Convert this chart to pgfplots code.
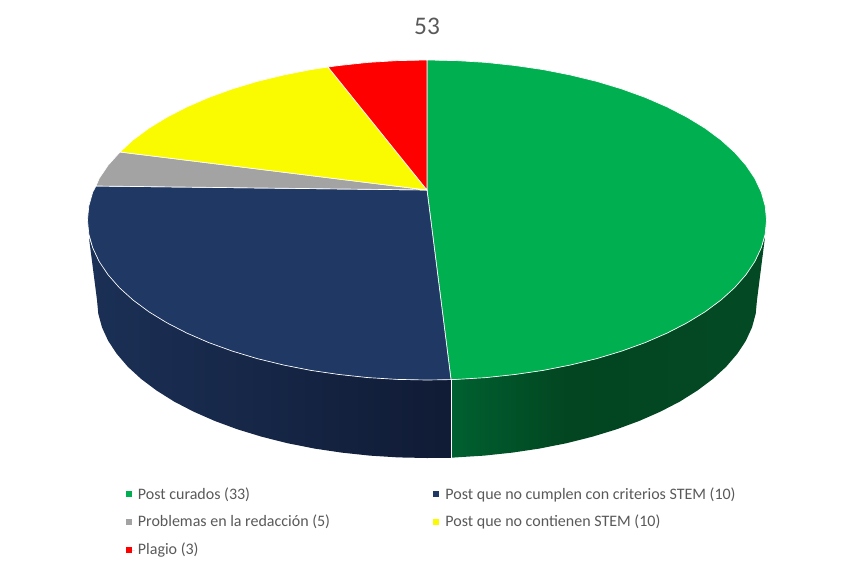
\documentclass[border=0pt]{standalone}
\usepackage{pgfplots}
\pgfplotsset{compat=1.18}
\usepackage{fontspec}
\setmainfont{Carlito}
\definecolor{cgreen}{HTML}{00AF50}
\definecolor{cblue}{HTML}{1F3864}
\definecolor{cgrey}{HTML}{A3A3A3}
\definecolor{cyellow}{HTML}{FAFA00}
\definecolor{cred}{HTML}{FF0000}
\definecolor{ctext}{HTML}{595959}
\definecolor{gs0}{HTML}{006030}
\definecolor{gs1}{HTML}{024520}
\definecolor{gs2}{HTML}{034A24}
\definecolor{bs0}{HTML}{1B3056}
\definecolor{bs1}{HTML}{101B35}
\pgfdeclarehorizontalshading{greenside}{100bp}{color(0bp)=(gs0);color(25bp)=(gs0);color(44bp)=(gs1);color(75bp)=(gs2);color(100bp)=(gs2)}
\pgfdeclarehorizontalshading{blueside}{100bp}{color(0bp)=(bs0);color(25bp)=(bs0);color(75bp)=(bs1);color(100bp)=(bs1)}
\begin{document}
\begin{tikzpicture}
\path (0,0) rectangle (640.5pt,426pt);
\begin{axis}[
  at={(0,0)}, anchor=south west,
  scale only axis, width=640.5pt, height=426pt,
  xmin=0, xmax=854, ymin=0, ymax=568, y dir=reverse,
  hide axis, clip=false,
  title={\fontsize{19}{23}\selectfont\color{ctext}53},
  title style={at={(rel axis cs:0.5,0.94)},anchor=center},
  legend columns=2,
  legend cell align=left,
  legend image code/.code={\path (0pt,0pt) rectangle (7pt,0pt);\path[#1,draw=none] (0pt,-2.25pt) rectangle (4.5pt,2.25pt);},
  legend style={
    at={(axis cs:121,482)}, anchor=north west, draw=none, fill=none,
    font=\fontsize{12}{14}\selectfont\color{ctext},
    row sep=6.4pt,
    /tikz/column 2/.style={column sep=75pt},
  },
]
% sides
\addplot[shade, shading=greenside, draw=none, forget plot] coordinates {
 (451,379.6)(456.6,379.4)(486,377.6)(514.9,374.5)(543.1,370.4)(570.5,365)(596.8,358.6)(621.7,351.1)(645.2,342.6)(667.1,333.1)(687.1,322.8)(705.1,311.8)(721,300)(734.7,287.6)(746,274.7)(754.9,261.4)(761.3,247.8)(765,237)
 (757,300)(755.7,313.8)(752,327.4)(745.8,340.9)(737.1,354)(726.1,366.8)(712.8,379)(697.3,390.6)(679.8,401.6)(660.3,411.7)(639.1,421)(616.3,429.4)(592,436.8)(566.5,443.2)(539.9,448.5)(512.4,452.6)(484.3,455.6)(455.8,457.4)(451,457.8)
} -- cycle;
\addplot[shade, shading=blueside, draw=none, forget plot] coordinates {
 (89,238)(92.7,247.8)(99.1,261.4)(108,274.7)(119.3,287.6)(133,300)(148.9,311.8)(166.9,322.8)(186.9,333.1)(208.8,342.6)(232.3,351.1)(257.2,358.6)(283.5,365)(310.9,370.4)(339.1,374.5)(368,377.6)(397.4,379.4)(427,380)(451,379.6)
 (451,457.8)(427,458)(398.2,457.4)(369.7,455.6)(341.6,452.6)(314.1,448.5)(287.5,443.2)(262,436.8)(237.7,429.4)(214.9,421)(193.7,411.7)(174.2,401.6)(156.7,390.6)(141.2,379)(127.9,366.8)(116.9,354)(108.2,340.9)(102,327.4)(98.3,313.8)(97,300)
} -- cycle;
\addplot[white, line width=0.6pt, forget plot] coordinates {(451,379.6)(451,457.8)};
% top slices
\addplot[fill=cgreen, draw=white, line width=0.5pt] coordinates {
 (427,190)(427,60)(456.6,60.6)(486,62.4)(514.9,65.5)(543.1,69.6)(570.5,75)(596.8,81.4)(621.7,88.9)(645.2,97.4)(667.1,106.9)(687.1,117.2)(705.1,128.2)(721,140)(734.7,152.4)(746,165.3)(754.9,178.6)(761.3,192.2)(765.2,206.1)(766.5,220)(765.2,233.9)(761.3,247.8)(754.9,261.4)(746,274.7)(734.7,287.6)(721,300)(705.1,311.8)(687.1,322.8)(667.1,333.1)(645.2,342.6)(621.7,351.1)(596.8,358.6)(570.5,365)(543.1,370.4)(514.9,374.5)(486,377.6)(456.6,379.4)(451,379.6)
} -- cycle;
\addlegendentry{Post curados (33)}
\addplot[fill=cblue, draw=white, line width=0.5pt] coordinates {
 (427,190)(451,379.6)(427,380)(397.4,379.4)(368,377.6)(339.1,374.5)(310.9,370.4)(283.5,365)(257.2,358.6)(232.3,351.1)(208.8,342.6)(186.9,333.1)(166.9,322.8)(148.9,311.8)(133,300)(119.3,287.6)(108,274.7)(99.1,261.4)(92.7,247.8)(88.8,233.9)(87.5,220)(88.8,206.1)(92.7,192.2)(96,186)
} -- cycle;
\addlegendentry{Post que no cumplen con criterios STEM (10)}
\addplot[fill=cgrey, draw=white, line width=0.5pt] coordinates {
 (427,190)(96,186)(99.1,178.6)(108,165.3)(120,152)
} -- cycle;
\addlegendentry{Problemas en la redacción (5)}
\addplot[fill=cyellow, draw=white, line width=0.5pt] coordinates {
 (427,190)(120,152)(133,140)(148.9,128.2)(166.9,117.2)(186.9,106.9)(208.8,97.4)(232.3,88.9)(257.2,81.4)(283.5,75)(310.9,69.6)(328,67)
} -- cycle;
\addlegendentry{Post que no contienen STEM (10)}
\addplot[fill=cred, draw=white, line width=0.5pt] coordinates {
 (427,190)(328,67)(339.1,65.5)(368,62.4)(397.4,60.6)(427,60)
} -- cycle;
\addlegendentry{Plagio (3)}
\end{axis}
\end{tikzpicture}
\end{document}
